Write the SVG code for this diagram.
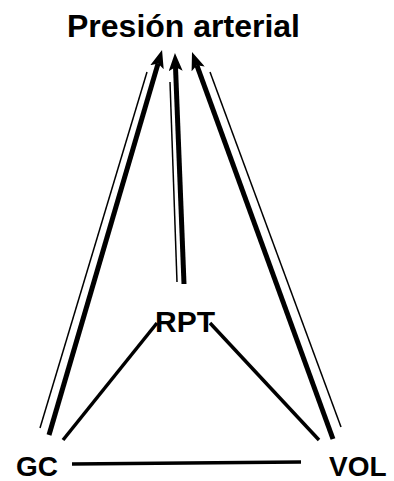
<svg xmlns="http://www.w3.org/2000/svg" width="394" height="481" viewBox="0 0 394 481">
<defs>
<style>
.lbl{font-family:"Liberation Sans",Arial,sans-serif;font-weight:bold;fill:#000}
.thick{stroke:#000;stroke-width:5;fill:none}
.thin{stroke:#000;stroke-width:1.5;fill:none}
.edge{stroke:#000;stroke-width:3.5;fill:none}
</style>
<marker id="ah" markerWidth="18" markerHeight="14" refX="4" refY="7" orient="auto" markerUnits="userSpaceOnUse" viewBox="0 0 18 14">
<path d="M0,0 L18,7 L0,14 L4,7 Z" fill="#000"/>
</marker>
</defs>
<rect width="394" height="481" fill="#fff"/>
<g id="connectors">
<line class="thin" x1="40" y1="428" x2="147" y2="72"/>
<line class="thick" x1="49" y1="435" x2="158.1" y2="63.4" marker-end="url(#ah)"/>
<line class="thin" x1="177" y1="282" x2="170" y2="82"/>
<line class="thick" x1="184" y1="284" x2="175.5" y2="67" marker-end="url(#ah)"/>
<line class="thin" x1="341" y1="427" x2="210" y2="72"/>
<line class="thick" x1="333" y1="439" x2="196.8" y2="65.2" marker-end="url(#ah)"/>
<line class="edge" x1="63" y1="440" x2="157" y2="323"/>
<line class="edge" x1="210" y1="323" x2="319" y2="440"/>
<line class="edge" x1="72" y1="464" x2="301" y2="462"/>
</g>
<g id="title"><text class="lbl" x="67" y="37" font-size="32">Presión arterial</text></g>
<g id="RPT"><text class="lbl" x="155" y="332" font-size="30">RPT</text></g>
<g id="GC"><text class="lbl" x="16" y="476" font-size="28">GC</text></g>
<g id="VOL"><text class="lbl" x="329" y="476" font-size="28">VOL</text></g>
</svg>
